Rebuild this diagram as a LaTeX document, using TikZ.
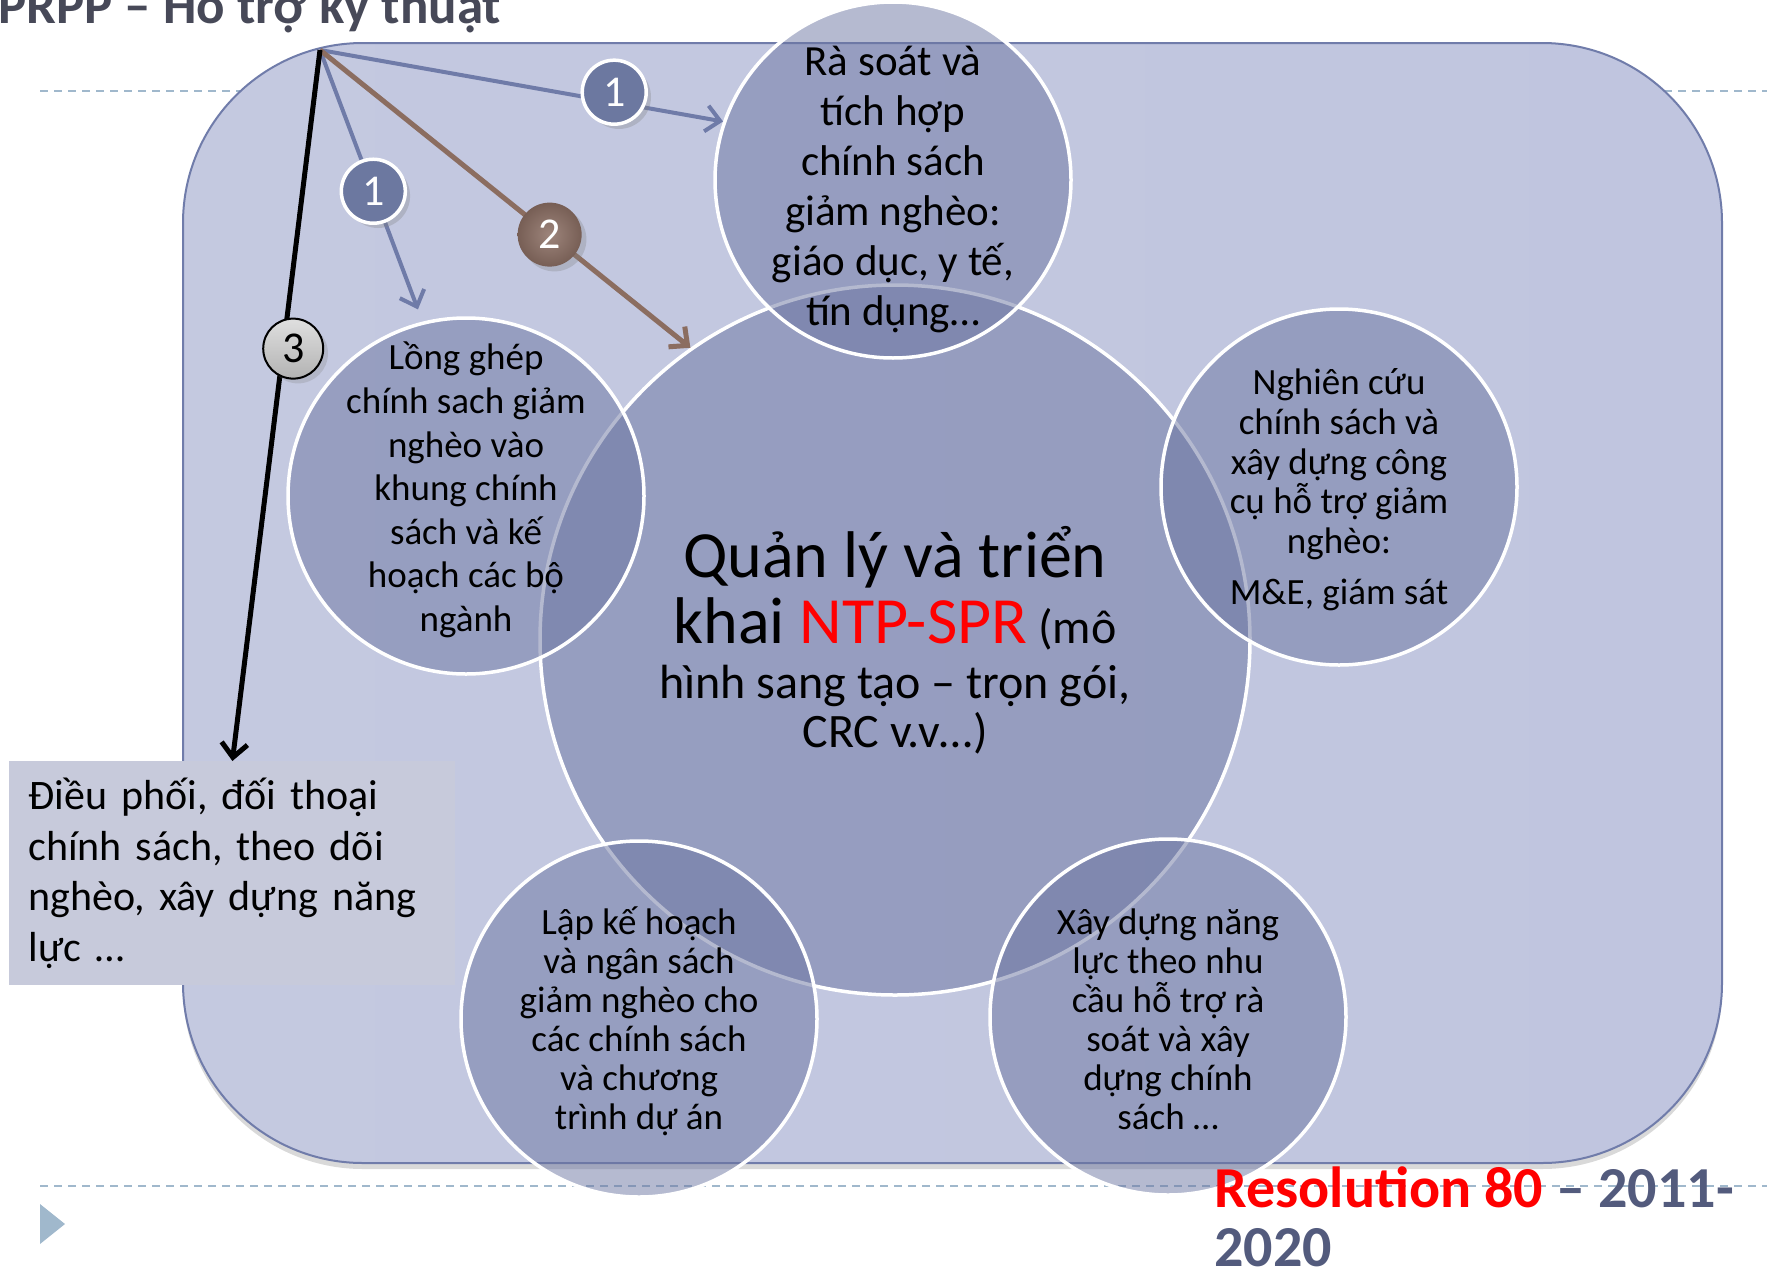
\documentclass[tikz,border=0pt]{standalone}
\usepackage{fontspec}
\setmainfont{Carlito}
\usetikzlibrary{arrows.meta,shadows}
\definecolor{ttlgray}{RGB}{71,73,88}
\definecolor{resgray}{RGB}{83,91,125}
\definecolor{dashblue}{RGB}{160,184,204}
\definecolor{rectl}{RGB}{196,201,224}
\definecolor{rectm}{RGB}{171,179,214}
\definecolor{rectr}{RGB}{192,197,223}
\definecolor{rectedge}{RGB}{112,124,170}
\definecolor{bub}{RGB}{107,117,161}
\definecolor{boxfill}{RGB}{199,202,219}
\definecolor{arrblue}{RGB}{111,123,168}
\definecolor{arrbrown}{RGB}{139,109,96}
\definecolor{lblblue}{RGB}{108,120,160}
\definecolor{lblbrown}{RGB}{140,111,100}
\setlength{\lineskiplimit}{-100pt}
\begin{document}
\begin{tikzpicture}[x=0.5pt,y=-0.5pt,
	bubble/.style={circle,draw=white,line width=1.75pt,fill=bub,fill opacity=0.5,inner sep=0pt,minimum size=178pt},
	bubtxt/.style={align=center,inner sep=0pt},
	dashrule/.style={draw=dashblue,line width=1pt,dash pattern=on 4pt off 3pt},
	link/.style={line width=2pt,-{Straight Barb[length=7pt,width=13pt]}},
	num/.style={circle,inner sep=0pt,minimum size=32pt,font=\fontsize{22}{22}\selectfont},
	one/.style={num,draw=white,line width=1.75pt,fill=lblblue,text=white,drop shadow={opacity=0.3}},
	two/.style={num,minimum size=32pt,inner color=lblbrown!85!white,outer color=lblbrown!85!black,text=white,drop shadow={opacity=0.3}},
	three/.style={num,minimum size=30pt,draw=black,line width=1pt,top color=gray!25,bottom color=gray!60,text=black,drop shadow={opacity=0.25}}]
	\useasboundingbox (0,0) rectangle (1776,1274);
	\draw[dashrule] (40,91) -- (1767,91);
	\draw[dashrule] (40,1186) -- (1767,1186);
	\fill[dashblue] (40,1204) -- (65,1224) -- (40,1244) -- cycle;
	\node[anchor=base west,inner sep=0pt,text=ttlgray,font=\bfseries\fontsize{26.5}{26.5}\selectfont] (ttl) at (-2,24) {PRPP – Hỗ trợ kỹ thuật};
	\draw[rectedge,line width=1pt,rounded corners=90pt,left color=rectl,middle color=rectm,right color=rectr,drop shadow={shadow xshift=0pt,shadow yshift=-3pt,opacity=0.3}] (183,43) rectangle (1722,1163);
	\node[bubble,minimum size=355pt] (mid) at (895,640) {};
	\node[bubble] (top) at (893,180) {};
	\node[bubble] (lft) at (466,496) {};
	\node[bubble] (rgt) at (1339,487) {};
	\node[bubble] (botl) at (639,1019) {};
	\node[bubble] (botr) at (1168,1017) {};
	\node[bubtxt,font=\fontsize{24}{24.5}\selectfont] (mid-txt) at (895,640) {{\fontsize{33}{33}\selectfont Quản lý và triển}\\[8.5pt]{\fontsize{33}{33}\selectfont khai \textcolor{red}{NTP-SPR}} (mô\\[3pt]hình sang tạo – trọn gói,\\CRC v.v…)};
	\node[bubtxt,font=\fontsize{21.5}{25}\selectfont] (top-txt) at (893,190) {Rà soát và\\tích hợp\\chính sách\\giảm nghèo:\\giáo dục, y tế,\\tín dụng…};
	\node[bubtxt,font=\fontsize{18.5}{21.8}\selectfont] (lft-txt) at (466,490) {Lồng ghép\\chính sach giảm\\nghèo vào\\khung chính\\sách và kế\\hoạch các bộ\\ngành};
	\node[bubtxt,font=\fontsize{18.5}{19.8}\selectfont] (rgt-txt) at (1339,490) {Nghiên cứu\\chính sách và\\xây dựng công\\cụ hỗ trợ giảm\\nghèo:\\[6pt]M\&E, giám sát};
	\node[bubtxt,font=\fontsize{18.5}{19.5}\selectfont] (botl-txt) at (639,1021) {Lập kế hoạch\\và ngân sách\\giảm nghèo cho\\các chính sách\\và chương\\trình dự án};
	\node[bubtxt,font=\fontsize{18.5}{19.5}\selectfont] (botr-txt) at (1168,1019) {Xây dựng năng\\lực theo nhu\\cầu hỗ trợ rà\\soát và xây\\dựng chính\\sách …};
	\node[anchor=north west,fill=boxfill,minimum width=223pt,minimum height=112pt,text width=204pt,inner xsep=9.5pt,align=left,font=\fontsize{21}{25.3}\selectfont] (box) at (9,761) {Điều phối, đối thoại\\chính sách, theo dõi\\nghèo, xây dựng năng\\lực …};
	\node[anchor=north west,inner sep=0pt,align=left,text=resgray,font=\bfseries\fontsize{29}{29.5}\selectfont] (res) at (1214,1166) {\textcolor{red}{Resolution 80} – 2011-\\2020};
	\coordinate (src) at (320,50);
	\draw[link,arrblue] (src) -- (top.161) node[one,pos=0.73,yshift=5pt] (n1a) {1};
	\draw[link,arrblue,shorten >=6.5pt] (src) -- (lft.104) node[one,pos=0.52] (n1b) {1};
	\draw[link,arrbrown,line width=2.5pt] (src) -- (mid.125) node[two,pos=0.62] (n2) {2};
	\draw[link,black,line width=2.5pt] (src) -- (box.north) node[three,pos=0.42,xshift=5pt] (n3) {3};
\end{tikzpicture}
\end{document}
